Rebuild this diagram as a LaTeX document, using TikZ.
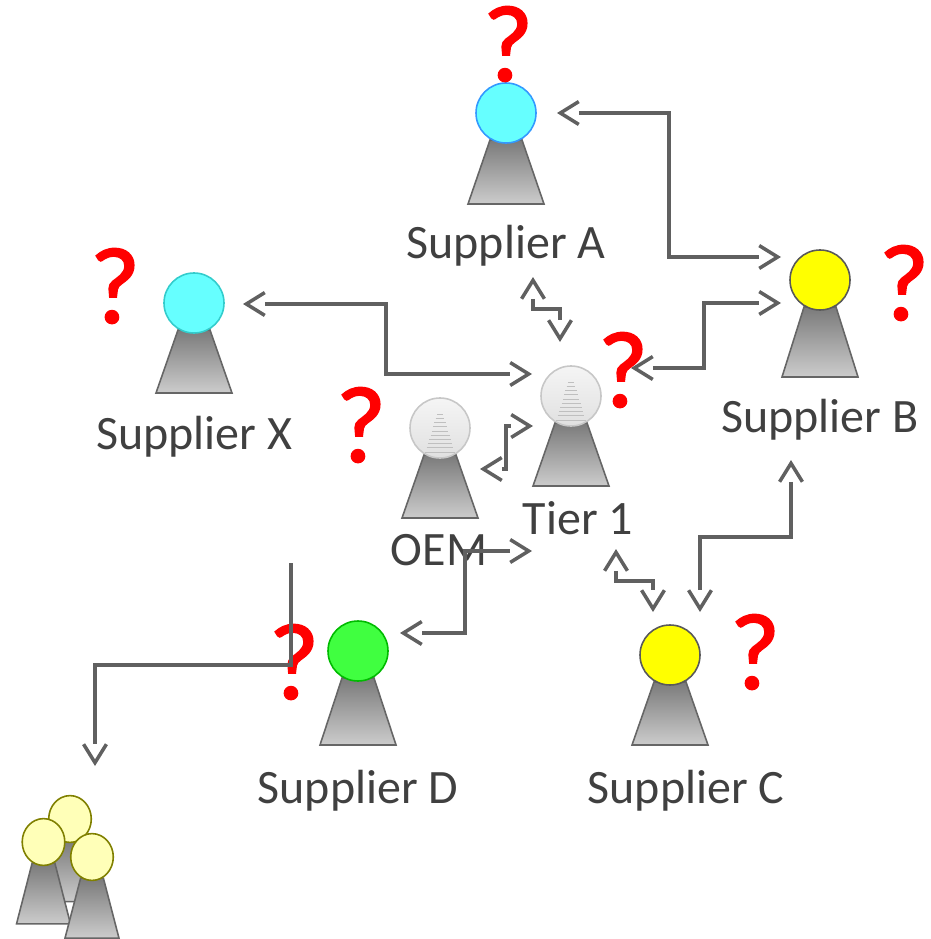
\documentclass[tikz,border=0pt]{standalone}
\usepackage{fontspec}
\setmainfont{Carlito}
\newfontfamily\askfont[FakeBold=1.5]{Carlito}
\usetikzlibrary{calc}

\definecolor{conncol}{HTML}{606060}
\definecolor{textcol}{HTML}{404040}
\definecolor{cyanfill}{HTML}{66FFFF}
\definecolor{blueline}{HTML}{3399FF}
\definecolor{tealline}{HTML}{33CCCC}
\definecolor{yellowfill}{HTML}{FFFF00}
\definecolor{greenfill}{HTML}{40FF40}
\definecolor{greenline}{HTML}{00BB00}
\definecolor{palefill}{HTML}{FFFFB8}
\definecolor{paleline}{HTML}{808000}
\definecolor{askcol}{HTML}{FF0000}

% open tip, the line stops at its back
\pgfdeclarearrow{
  name=Gap Barb,
  setup code={
    \pgfarrowssettipend{1.9pt}
    \pgfarrowssetbackend{-10.5pt}
    \pgfarrowssetlineend{-10.5pt}
    \pgfarrowssetvisualbackend{-10.5pt}
    \pgfarrowshullpoint{1.9pt}{0pt}
    \pgfarrowshullpoint{-10.5pt}{6.5pt}
    \pgfarrowshullpoint{-10.5pt}{-6.5pt}
  },
  drawing code={
    \pgfsetdash{}{0pt}\pgfsetmiterjoin\pgfsetbuttcap
    \pgfsetlinewidth{2pt}
    \pgfpathmoveto{\pgfqpoint{-10.5pt}{6.5pt}}
    \pgfpathlineto{\pgfqpoint{0pt}{0pt}}
    \pgfpathlineto{\pgfqpoint{-10.5pt}{-6.5pt}}
    \pgfusepathqstroke
  }
}

\tikzset{
  conn/.style={draw=conncol,line width=2pt,line join=miter},
  both/.style={conn,{Gap Barb}-{Gap Barb}},
  single/.style={conn,-{Gap Barb}},
  lbl/.style={text=textcol,font=\fontsize{27.3}{30}\selectfont,inner sep=0pt},
  ask/.style={text=askcol,font=\askfont\fontsize{62}{66}\selectfont,inner sep=0pt},
  body/.style={draw=black!60,line width=0.9pt,top color=black!52,bottom color=black!20},
  bluehead/.style={draw=blueline,line width=0.9pt,fill=cyanfill},
  tealhead/.style={draw=tealline,line width=0.9pt,fill=cyanfill},
  yellowhead/.style={draw=black!65,line width=0.9pt,fill=yellowfill},
  greenhead/.style={draw=greenline,line width=0.9pt,fill=greenfill},
  palehead/.style={draw=paleline,line width=0.9pt,fill=palefill},
  silverhead/.style={draw=black!22,line width=0.9pt,top color=black!4,bottom color=black!12},
}

% #1,#2 head centre, #3 head style, #4 name, #5 x factor, #6 y factor, #7 base drop
\newcommand{\pawn}[7]{
  \coordinate (#4) at (#1,#2);
  \begin{scope}[shift={(#4)},xscale=#5,yscale=#6]
    \draw[body] (-16,27) -- (-38,#7) -- (38,#7) -- (16,27) -- cycle;
    \draw[#3] (0,0) circle [radius=30];
  \end{scope}
}
\newcommand{\stripes}[1]{
  \foreach \i in {0,...,9}
    \draw[black!25,line width=0.3pt] ($(#1)+(-3-1.3*\i,-14+4.2*\i)$) -- ($(#1)+(3+1.3*\i,-14+4.2*\i)$);
}

\begin{document}
\begin{tikzpicture}[x=0.02cm,y=-0.02cm]
\useasboundingbox (0,0) rectangle (930,939);

\pawn{506}{113}{bluehead}{suppa}{1}{1}{91}
\pawn{194}{303}{tealhead}{suppx}{1}{1}{90}
\pawn{820}{280}{yellowhead}{suppb}{1}{1}{97}
\pawn{571}{396}{silverhead}{tierone}{1}{1}{90}
\pawn{440}{428}{silverhead}{oem}{1}{1}{90}
\pawn{358}{651}{greenhead}{suppd}{1}{1}{94}
\pawn{670}{655}{yellowhead}{suppc}{1}{1}{90}
\stripes{tierone}
\stripes{oem}

% group, lower left
\pawn{70}{819}{palehead}{groupb}{0.71}{0.78}{106}
\pawn{43.5}{842}{palehead}{groupl}{0.71}{0.78}{105}
\pawn{92}{857}{palehead}{groupr}{0.71}{0.78}{104}

\node[lbl] (suppalbl) at (506,246) {Supplier A};
\node[lbl] (suppxlbl) at (194,437) {Supplier X};
\node[lbl] (suppblbl) at (820,420) {Supplier B};
\node[lbl] (tierlbl) at (578,518) {Tier 1};
\node[lbl] (oemlbl) at (439,550) {OEM};
\node[lbl] (suppdlbl) at (358,791) {Supplier D};
\node[lbl] (suppclbl) at (686,791) {Supplier C};

\node[ask] (aska) at (508,44) {?};
\node[ask] (askx) at (115,286) {?};
\node[ask] (askb) at (904,283) {?};
\node[ask] (askoem) at (361,425) {?};
\node[ask] (askd) at (294,662) {?};
\node[ask] (askc) at (755,652) {?};

% connector ends
\coordinate (ae) at (557,113);
\coordinate (ebt) at (781,257);
\coordinate (xe) at (243,304);
\coordinate (tw) at (532,374);
\coordinate (te) at (631,368);
\coordinate (ebm) at (781,303);
\coordinate (as) at (533,277);
\coordinate (tn) at (560,342);
\coordinate (oe) at (480,469);
\coordinate (twm) at (533,426);
\coordinate (ts) at (616,549);
\coordinate (cn) at (653,612);
\coordinate (bs) at (791,460);
\coordinate (cm) at (700,612);
\coordinate (tws) at (532,551);
\coordinate (de) at (400,633);
\coordinate (dtop) at (291,563);
\coordinate (gn) at (95,766);

\draw[both] (ae) -| (669,185) |- (ebt);
\draw[both] (xe) -| (386,340) |- (tw);
\draw[both] (te) -| (704,335) |- (ebm);
\draw[both] (as) |- (546,309) -| (tn);
\draw[both] (oe) -| (506,447) |- (twm);
\draw[both] (ts) |- (634,581) -| (cn);
\draw[both] (bs) |- (745,537) -| (cm);
\draw[both] (tws) -| (465,590) |- (de);
\draw[single] (dtop) |- (190,665) -| (gn);

\node[ask] (asktier) at (623,370) {?};
\end{tikzpicture}
\end{document}
